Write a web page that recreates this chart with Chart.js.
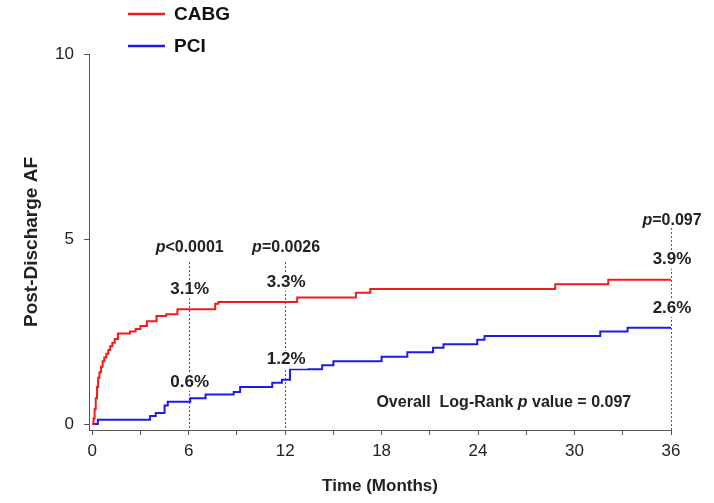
<!DOCTYPE html>
<html>
<head>
<meta charset="utf-8">
<script src="https://cdn.jsdelivr.net/npm/chart.js@4/dist/chart.umd.min.js"></script>
<style>
  html, body { margin: 0; padding: 0; background: #fff; }
  canvas { display: block; }
</style>
</head>
<body>
<canvas id="c" width="714" height="503"></canvas>
<script>
// Cumulative post-discharge AF (%) by month, step function for each group
const cabgMonths = [0, 0.08, 0.15, 0.22, 0.3, 0.37, 0.45, 0.55, 0.65, 0.75, 0.88, 1.0, 1.12, 1.25, 1.4, 1.6, 2.35, 2.7, 3.0, 3.4, 4.0, 4.6, 5.3, 7.65, 7.85, 12.75, 16.4, 17.3, 28.8, 32.1, 36];
const cabgAF     = [0, 0.15, 0.4, 0.7, 1.0, 1.25, 1.4, 1.55, 1.7, 1.8, 1.9, 2.0, 2.1, 2.2, 2.3, 2.45, 2.5, 2.57, 2.65, 2.78, 2.92, 2.97, 3.1, 3.25, 3.3, 3.42, 3.55, 3.65, 3.78, 3.9, 3.9];

const pciMonths = [0, 0.35, 3.6, 3.95, 4.5, 4.7, 6.1, 7.05, 8.8, 9.2, 11.2, 11.8, 12.3, 14.3, 15.0, 18.0, 19.6, 21.2, 21.85, 23.95, 24.4, 31.6, 33.3, 36];
const pciAF     = [0, 0.12, 0.22, 0.3, 0.5, 0.6, 0.7, 0.8, 0.87, 1.0, 1.12, 1.2, 1.48, 1.59, 1.7, 1.82, 1.94, 2.06, 2.16, 2.28, 2.38, 2.5, 2.6, 2.6];

// Landmark comparisons
const landmarkMonths = [6, 12, 36];
const landmarkP      = ['<0.0001', '=0.0026', '=0.097'];
const cabgAtLandmark = [3.1, 3.3, 3.9];
const pciAtLandmark  = [0.6, 1.2, 2.6];
const overallP = '0.097';

// Axis ticks
const xTicks = [0, 3, 6, 9, 12, 15, 18, 21, 24, 27, 30, 33, 36];
const xLabelled = [0, 6, 12, 18, 24, 30, 36];
const yTicks = [0, 5, 10];

const seriesNames = ['CABG', 'PCI'];
const RED = '#f01c1c';
const BLUE = '#1c1ce6';
const INK = '#222';
const FONT = "'Liberation Sans', Arial, sans-serif";

function toPoints(xs, ys) { return xs.map((x, i) => ({ x: x, y: ys[i] })); }

// Text made of differently styled runs, centred on (cx, cy)
function drawRuns(ctx, runs, cx, cy, whiteBox) {
  let total = 0;
  runs.forEach(r => { ctx.font = r.font; r.w = ctx.measureText(r.text).width; total += r.w; });
  let x = cx - total / 2;
  if (whiteBox) {
    ctx.fillStyle = '#fff';
    ctx.fillRect(x - 2, cy - 9, total + 4, 18);
  }
  ctx.fillStyle = INK;
  ctx.textBaseline = 'middle';
  ctx.textAlign = 'left';
  runs.forEach(r => { ctx.font = r.font; ctx.fillText(r.text, x, cy); x += r.w; });
}

const landmarkPlugin = {
  id: 'landmarks',
  beforeDatasetsDraw(chart, args, opts) {
    const { ctx, chartArea, scales: { x, y } } = chart;
    ctx.save();
    ctx.strokeStyle = '#555';
    ctx.lineWidth = 1;
    ctx.setLineDash([2, 2]);
    landmarkMonths.forEach((m, i) => {
      const px = Math.round(x.getPixelForValue(m)) + 0.5;
      ctx.beginPath();
      ctx.moveTo(px, y.getPixelForValue(opts.lineTop[i]));
      ctx.lineTo(px, chartArea.bottom);
      ctx.stroke();
    });
    ctx.restore();
  },
  afterDatasetsDraw(chart, args, opts) {
    const { ctx, scales: { x, y } } = chart;
    ctx.save();
    const bold16 = 'bold 16px ' + FONT;
    const ital16 = 'italic bold 16px ' + FONT;
    const bold17 = 'bold 17px ' + FONT;
    landmarkMonths.forEach((m, i) => {
      const px = x.getPixelForValue(m) + 1;
      drawRuns(ctx, [{ text: 'p', font: ital16 }, { text: landmarkP[i], font: bold16 }],
               px, y.getPixelForValue(opts.pLevel[i]), false);
      drawRuns(ctx, [{ text: cabgAtLandmark[i].toFixed(1) + '%', font: bold17 }],
               px, y.getPixelForValue(cabgAtLandmark[i]) - opts.labelLift, true);
      drawRuns(ctx, [{ text: pciAtLandmark[i].toFixed(1) + '%', font: bold17 }],
               px, y.getPixelForValue(pciAtLandmark[i]) - opts.labelLift, true);
    });
    drawRuns(ctx, [
      { text: 'Overall  Log-Rank ', font: bold16 },
      { text: 'p', font: ital16 },
      { text: ' value = ' + overallP, font: bold16 }
    ], x.getPixelForValue(opts.overallAt[0]), y.getPixelForValue(opts.overallAt[1]), false);
    ctx.restore();
  }
};

const legendPlugin = {
  id: 'sideLegend',
  afterDraw(chart, args, opts) {
    const { ctx } = chart;
    ctx.save();
    chart.data.datasets.forEach((ds, i) => {
      const yy = opts.rows[i];
      ctx.strokeStyle = ds.borderColor;
      ctx.lineWidth = 2.5;
      ctx.beginPath();
      ctx.moveTo(opts.lineX[0], yy);
      ctx.lineTo(opts.lineX[1], yy);
      ctx.stroke();
      ctx.fillStyle = '#111';
      ctx.font = 'bold 19px ' + FONT;
      ctx.textBaseline = 'middle';
      ctx.textAlign = 'left';
      ctx.fillText(ds.label, opts.textX, yy + 1);
    });
    ctx.restore();
  }
};

new Chart(document.getElementById('c'), {
  type: 'line',
  data: {
    datasets: [
      { label: seriesNames[0], data: toPoints(cabgMonths, cabgAF), borderColor: RED, borderWidth: 2, stepped: 'before', pointRadius: 0, fill: false },
      { label: seriesNames[1], data: toPoints(pciMonths, pciAF), borderColor: BLUE, borderWidth: 2, stepped: 'before', pointRadius: 0, fill: false }
    ]
  },
  options: {
    responsive: false,
    animation: false,
    layout: { padding: { left: 0, right: 43, top: 54, bottom: 0 } },
    plugins: {
      legend: { display: false },
      tooltip: { enabled: false },
      landmarks: { lineTop: [4.38, 4.38, 5.3], pLevel: [4.78, 4.78, 5.49], labelLift: 20, overallAt: [25.6, 0.57] },
      sideLegend: { rows: [14, 46], lineX: [128, 165], textX: 174 }
    },
    scales: {
      x: {
        type: 'linear',
        min: -0.2,
        max: 36,
        afterBuildTicks: s => { s.ticks = xTicks.map(v => ({ value: v })); },
        afterFit: s => { s.height = 73; },
        ticks: {
          autoSkip: false,
          maxRotation: 0,
          padding: 6,
          color: INK,
          font: { family: FONT, size: 17 },
          callback: v => (xLabelled.includes(v) ? String(v) : '')
        },
        grid: { display: true, drawOnChartArea: false, drawTicks: true, tickLength: 5, color: '#555' },
        border: { display: true, color: '#555', width: 1 },
        title: { display: true, text: 'Time (Months)', color: INK, font: { family: FONT, size: 17, weight: 'bold' }, padding: { top: 0, bottom: 6 } }
      },
      y: {
        type: 'linear',
        min: -0.16,
        max: 10,
        afterBuildTicks: s => { s.ticks = yTicks.map(v => ({ value: v })); },
        afterFit: s => { s.width = 89; },
        ticks: { padding: 10, color: INK, font: { family: FONT, size: 17 } },
        grid: { display: true, drawOnChartArea: false, drawTicks: true, tickLength: 5, color: '#555' },
        border: { display: true, color: '#555', width: 1 },
        title: { display: true, text: 'Post-Discharge AF', color: INK, font: { family: FONT, size: 19, weight: 'bold' }, padding: { top: 20, bottom: 0 } }
      }
    }
  },
  plugins: [landmarkPlugin, legendPlugin]
});
</script>
</body>
</html>
